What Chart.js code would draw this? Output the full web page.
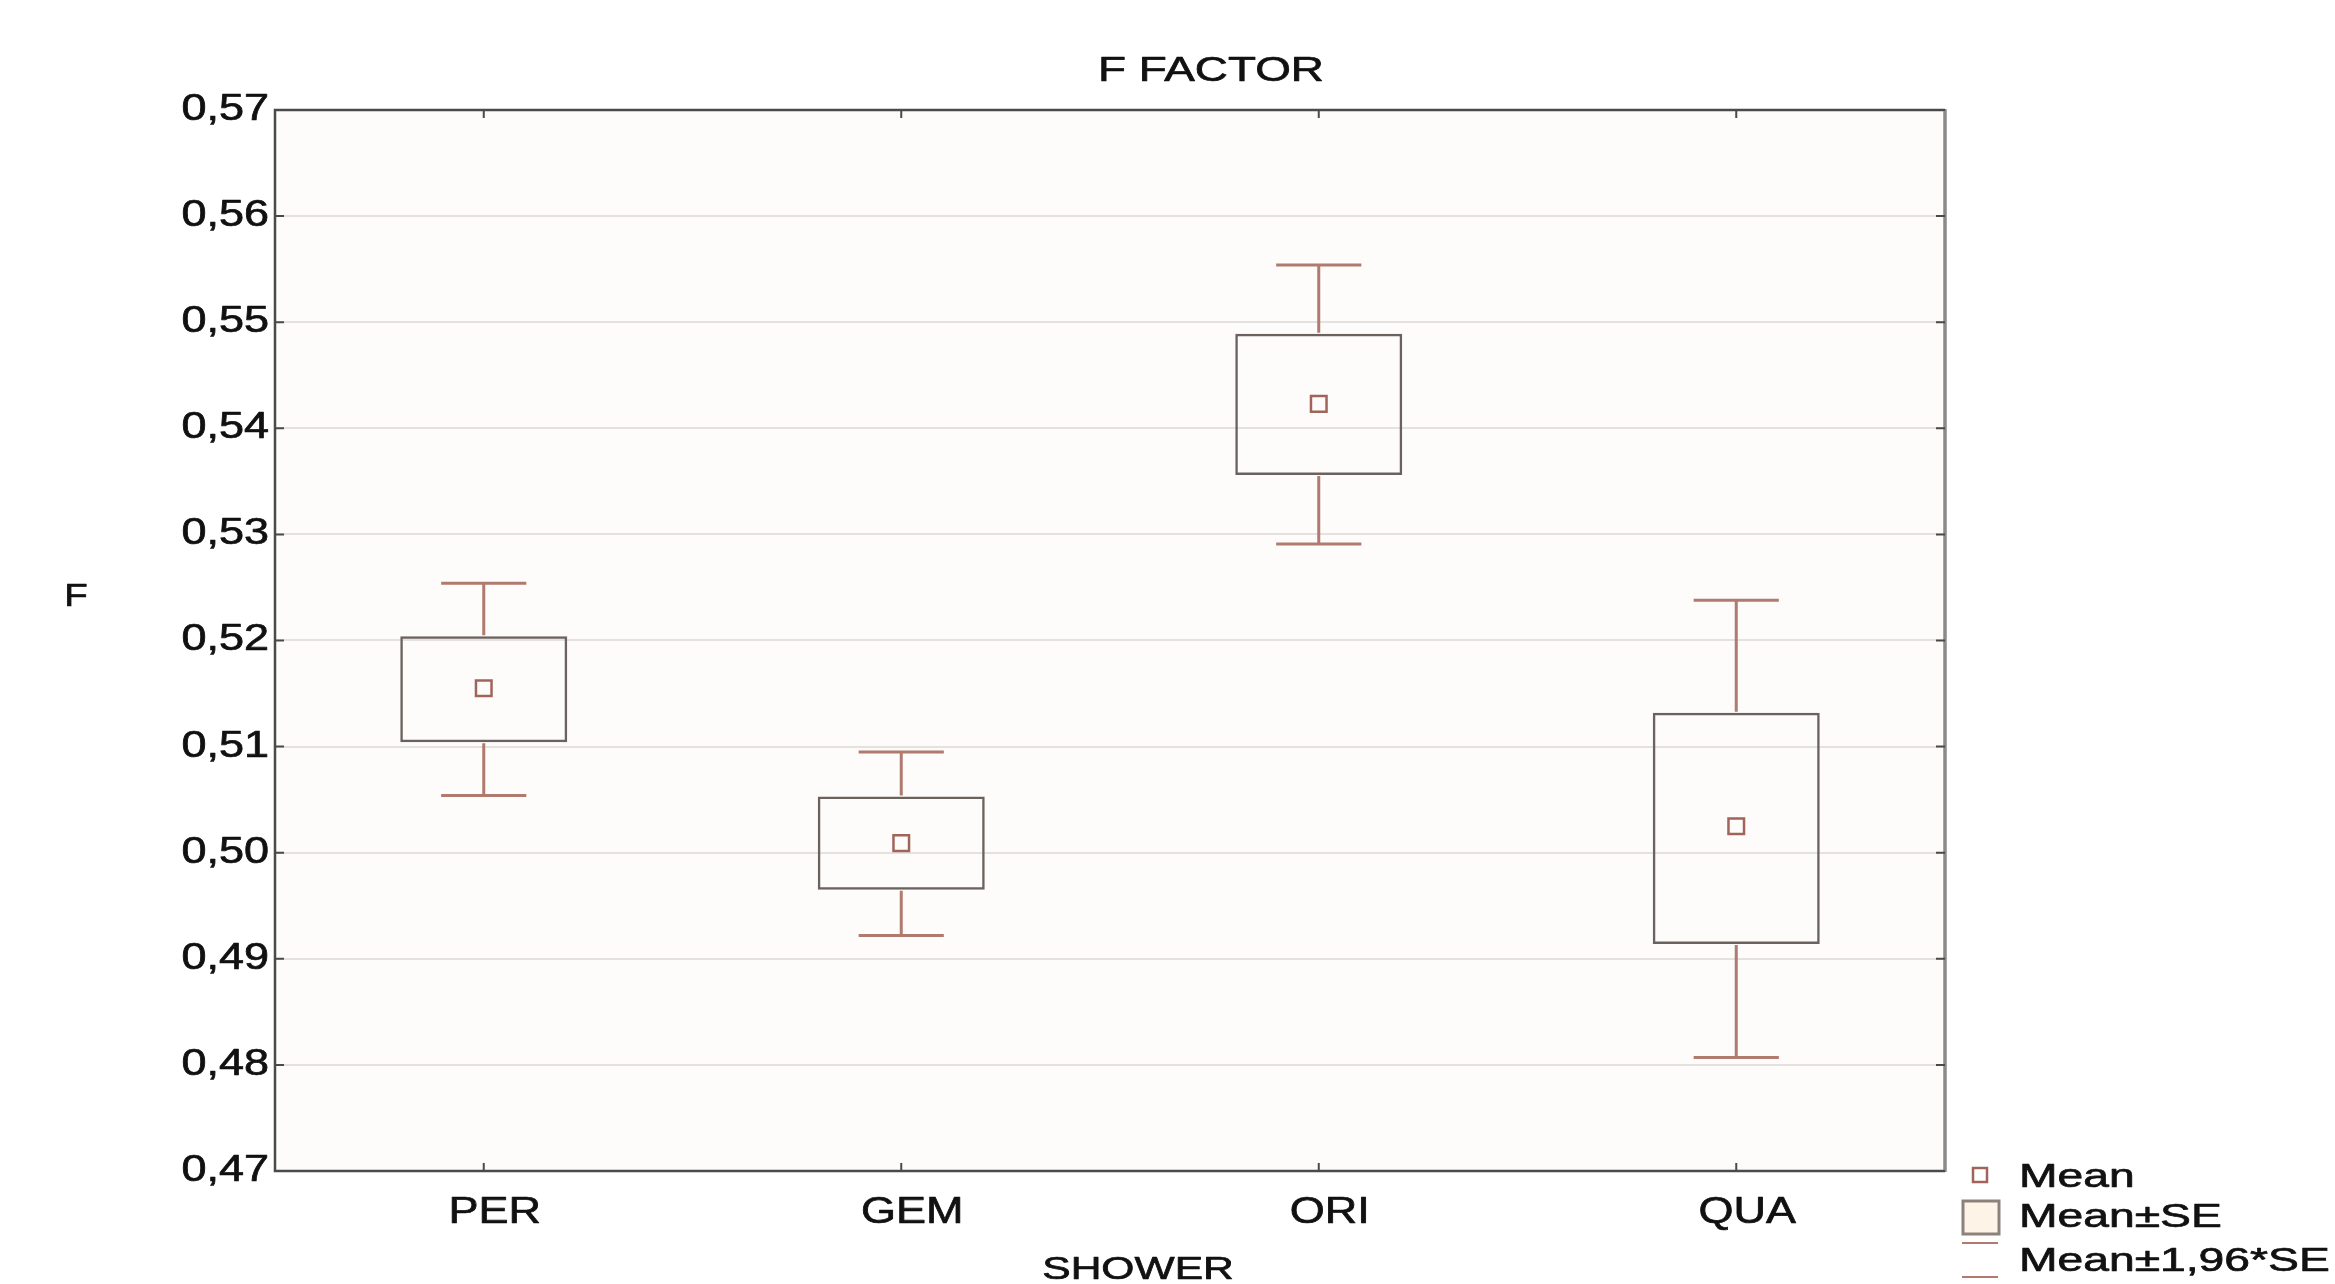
<!DOCTYPE html>
<html>
<head>
<meta charset="utf-8">
<script src="https://cdn.jsdelivr.net/npm/chart.js@4.4.1/dist/chart.umd.min.js"></script>
<style>
  html, body { margin: 0; padding: 0; background: #ffffff; }
  #wrap { width: 2335px; height: 1284px; }
</style>
</head>
<body>
<div id="wrap"><canvas id="c" width="2335" height="1284"></canvas></div>
<script>
// ---- data ----
const categories = ['PER', 'GEM', 'ORI', 'QUA'];
const means  = [0.5155, 0.5009, 0.5423, 0.5025];
const seLow  = [0.5104, 0.4965, 0.5356, 0.4914];
const seHigh = [0.5204, 0.5053, 0.5489, 0.5132];
const ciLow  = [0.5054, 0.4922, 0.5291, 0.4807];
const ciHigh = [0.5254, 0.5095, 0.5554, 0.5238];
const yMin = 0.47, yMax = 0.57, yStep = 0.01;
const chartTitle = 'F FACTOR';
const xTitle = 'SHOWER';
const yTitle = 'F';
const legendLabels = ['Mean', 'Mean\u00B1SE', 'Mean\u00B11,96*SE'];

// ---- styles ----
const FONT = '"Liberation Sans", Arial, sans-serif';
const TEXT = '#111111';
const WHISKER = '#b07a6e';
const BOXLINE = '#6b625e';
const MEANCOL = '#a0645a';
const FRAME = '#4a4a4a';

const boxData = categories.map((c, i) => [seLow[i], seHigh[i]]);

// The reference text is horizontally widened and slightly heavy; render canvas text the same way.
const canvas = document.getElementById('c');
const ctx0 = canvas.getContext('2d');
let textStretch = 1;
const origFill = ctx0.fillText.bind(ctx0);
const origStroke = ctx0.strokeText.bind(ctx0);
ctx0.fillText = function (s, x, y, maxW) {
  ctx0.save();
  ctx0.translate(x, y);
  ctx0.scale(textStretch, 1);
  if (maxW === undefined) origFill(s, 0, 0); else origFill(s, 0, 0, maxW / textStretch);
  ctx0.strokeStyle = ctx0.fillStyle;
  ctx0.lineWidth = 0.7;
  ctx0.lineJoin = 'round';
  if (maxW === undefined) origStroke(s, 0, 0); else origStroke(s, 0, 0, maxW / textStretch);
  ctx0.restore();
};

function txt(ctx, s, x, y, size, stretch, align) {
  ctx.font = size + 'px ' + FONT;
  ctx.textAlign = align;
  textStretch = stretch;
  ctx.fillText(s, x, y);
  textStretch = 1;
}

const decor = {
  id: 'decor',
  beforeDraw(chart) {
    const { ctx, chartArea: a } = chart;
    ctx.save();
    ctx.fillStyle = '#ffffff';
    ctx.fillRect(0, 0, chart.width, chart.height);
    ctx.fillStyle = '#fdfcfb';
    ctx.fillRect(a.left, a.top, a.right - a.left, a.bottom - a.top);
    ctx.restore();
    textStretch = 1.25;      // y-axis tick labels (drawn before datasets)
  },
  beforeDatasetsDraw() { textStretch = 1; },
  afterDatasetsDraw(chart) {
    const { ctx, scales: { x, y } } = chart;
    const catW = x.getPixelForValue(1) - x.getPixelForValue(0);
    const capHalf = catW * 0.102;
    ctx.save();
    ctx.strokeStyle = WHISKER;
    ctx.lineWidth = 3;
    ctx.lineCap = 'butt';
    categories.forEach((c, i) => {
      const px = x.getPixelForValue(i);
      const yTop = y.getPixelForValue(ciHigh[i]);
      const yBoxTop = y.getPixelForValue(seHigh[i]);
      const yBoxBot = y.getPixelForValue(seLow[i]);
      const yBot = y.getPixelForValue(ciLow[i]);
      ctx.beginPath();
      ctx.moveTo(px, yBoxTop - 1); ctx.lineTo(px, yTop);
      ctx.moveTo(px - capHalf, yTop); ctx.lineTo(px + capHalf, yTop);
      ctx.moveTo(px, yBoxBot + 1); ctx.lineTo(px, yBot);
      ctx.moveTo(px - capHalf, yBot); ctx.lineTo(px + capHalf, yBot);
      ctx.stroke();
    });
    ctx.restore();
    textStretch = 1.33;      // x-axis tick labels (drawn after datasets)
  },
  afterDraw(chart) {
    textStretch = 1;
    const { ctx, chartArea: a, scales: { x, y } } = chart;
    ctx.save();
    // frame
    ctx.strokeStyle = FRAME;
    ctx.lineWidth = 2.5;
    ctx.beginPath();
    ctx.moveTo(a.right, a.top); ctx.lineTo(a.left, a.top);
    ctx.lineTo(a.left, a.bottom); ctx.lineTo(a.right, a.bottom);
    ctx.stroke();
    ctx.strokeStyle = '#8a8a8a';
    ctx.lineWidth = 3.5;
    ctx.beginPath();
    ctx.moveTo(a.right, a.top - 1); ctx.lineTo(a.right, a.bottom + 1);
    ctx.stroke();
    // inward tick marks
    ctx.strokeStyle = FRAME;
    ctx.lineWidth = 2;
    ctx.beginPath();
    y.ticks.forEach(t => {
      const py = y.getPixelForValue(t.value);
      ctx.moveTo(a.left, py); ctx.lineTo(a.left + 9, py);
      ctx.moveTo(a.right, py); ctx.lineTo(a.right - 9, py);
    });
    categories.forEach((c, i) => {
      const px = x.getPixelForValue(i);
      ctx.moveTo(px, a.top); ctx.lineTo(px, a.top + 8);
      ctx.moveTo(px, a.bottom); ctx.lineTo(px, a.bottom - 8);
    });
    ctx.stroke();

    // titles
    ctx.fillStyle = TEXT;
    ctx.textBaseline = 'middle';
    txt(ctx, chartTitle, 1211, 71, 35, 1.31, 'center');
    txt(ctx, xTitle, 1138, 1270, 32, 1.33, 'center');
    txt(ctx, yTitle, 76, 597, 32, 1.2, 'center');

    // legend
    ctx.strokeStyle = MEANCOL;
    ctx.lineWidth = 2.5;
    ctx.strokeRect(1973, 1168, 14, 14);
    ctx.fillStyle = TEXT;
    txt(ctx, legendLabels[0], 2019, 1178, 34, 1.36, 'left');
    ctx.fillStyle = '#fdf3e6';
    ctx.fillRect(1963, 1201, 36, 33);
    ctx.strokeStyle = '#8c827c';
    ctx.lineWidth = 3;
    ctx.strokeRect(1963, 1201, 36, 33);
    ctx.fillStyle = TEXT;
    txt(ctx, legendLabels[1], 2019, 1218, 34, 1.36, 'left');
    ctx.strokeStyle = WHISKER;
    ctx.lineWidth = 2;
    ctx.beginPath();
    ctx.moveTo(1962, 1243); ctx.lineTo(1998, 1243);
    ctx.moveTo(1962, 1277); ctx.lineTo(1998, 1277);
    ctx.stroke();
    ctx.fillStyle = TEXT;
    txt(ctx, legendLabels[2], 2019, 1262, 34, 1.36, 'left');
    ctx.restore();
  }
};

new Chart(canvas, {
  type: 'bar',
  data: {
    labels: categories,
    datasets: [
      {
        type: 'line',
        label: 'Mean',
        data: means,
        showLine: false,
        pointStyle: 'rect',
        pointRadius: 11,
        pointBorderWidth: 2.5,
        pointBorderColor: MEANCOL,
        pointBackgroundColor: 'rgba(0,0,0,0)',
        order: 0
      },
      {
        label: 'Mean\u00B1SE',
        data: boxData,
        backgroundColor: 'rgba(0,0,0,0)',
        borderColor: BOXLINE,
        borderWidth: 2.5,
        borderSkipped: false,
        barPercentage: 0.4,
        categoryPercentage: 1.0,
        order: 1
      }
    ]
  },
  options: {
    responsive: false,
    animation: false,
    devicePixelRatio: 1,
    layout: { padding: { left: 0, top: 110, right: 390, bottom: 0 } },
    plugins: {
      legend: { display: false },
      title: { display: false },
      tooltip: { enabled: false }
    },
    scales: {
      x: {
        type: 'category',
        offset: true,
        z: 1,
        grid: { display: false, drawTicks: false },
        border: { display: false },
        ticks: { color: TEXT, font: { family: FONT, size: 36 }, padding: 20, labelOffset: 11 },
        afterFit(s) { s.height = 113; }
      },
      y: {
        min: yMin,
        max: yMax,
        z: 0,
        grid: { color: '#e4e1de', lineWidth: 2, drawTicks: false },
        border: { display: false },
        ticks: {
          stepSize: yStep,
          color: TEXT,
          font: { family: FONT, size: 36 },
          padding: 6,
          callback: v => v.toFixed(2).replace('.', ',')
        },
        afterFit(s) { s.width = 275; }
      }
    }
  },
  plugins: [decor]
});
</script>
</body>
</html>
